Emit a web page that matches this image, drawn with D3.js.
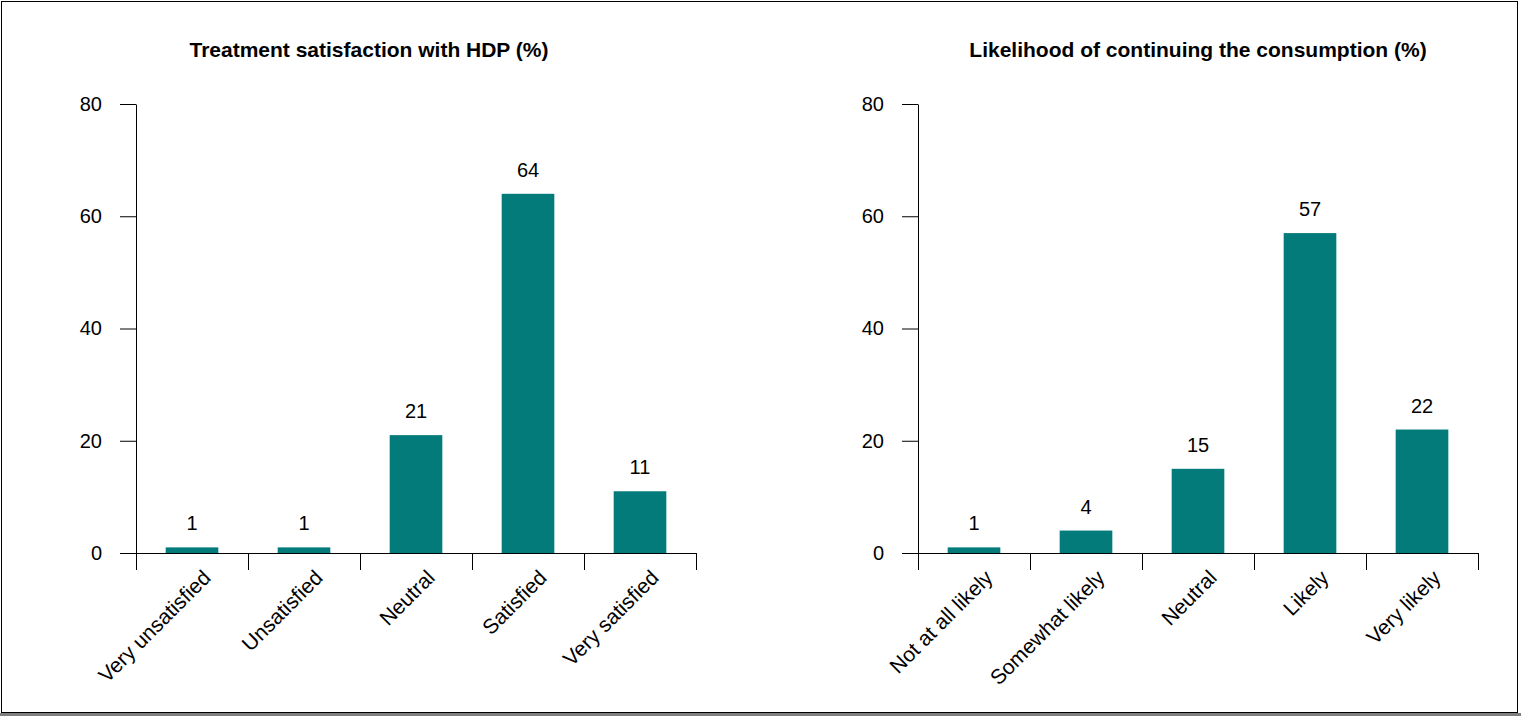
<!DOCTYPE html>
<html>
<head>
<meta charset="utf-8">
<script src="https://cdn.jsdelivr.net/npm/d3@7"></script>
<style>
	body { margin: 0; background: #fff; }
	text { font-family: "Liberation Sans", Arial, sans-serif; }
</style>
</head>
<body>
<div id="content"></div>
<script>
var satisfactionCats = ["Very unsatisfied", "Unsatisfied", "Neutral", "Satisfied", "Very satisfied"];
var satisfactionVals = [1, 1, 21, 64, 11];

var continueCats = ["Not at all likely", "Somewhat likely", "Neutral", "Likely", "Very likely"];
var continueVals = [1, 4, 15, 57, 22];

var yTicks = [0, 20, 40, 60, 80];

var W = 1521, H = 716;
var top0 = 104, bottom0 = 553;

var svg = d3.select("#content").append("svg")
	.attr("width", W).attr("height", H);

svg.append("rect").attr("x", 0).attr("y", 0).attr("width", W).attr("height", H).style("fill", "#fff");

// frame
svg.append("rect").attr("x", 1.5).attr("y", 1.5).attr("width", 1516).attr("height", 711)
	.style("fill", "none").style("stroke", "#000").style("stroke-width", 1);
svg.append("rect").attr("x", 0).attr("y", 713).attr("width", W).attr("height", 3).style("fill", "#7f7f7f");

var panel = function (cats, vals, left, right, title, titleX) {
	var g = svg.append("g");

	var y = d3.scaleLinear().domain([0, 80]).range([bottom0, top0]);
	var x = d3.scaleBand().domain(cats).range([left, right])
		.paddingInner(0.53).paddingOuter(0.265);
	var xi = d3.scaleLinear().domain([0, cats.length]).range([left, right]);

	g.append("text").attr("x", titleX).attr("y", 57)
		.attr("text-anchor", "middle")
		.style("font-size", "21px").style("font-weight", "bold")
		.text(title);

	// bars
	g.selectAll("rect.bar").data(vals).enter().append("rect")
		.attr("class", "bar")
		.attr("x", function (d, i) { return x(cats[i]); })
		.attr("width", x.bandwidth())
		.attr("y", function (d) { return y(d); })
		.attr("height", function (d) { return y(0) - y(d); })
		.style("fill", "#037b7b");

	// value labels
	g.selectAll("text.val").data(vals).enter().append("text")
		.attr("class", "val")
		.attr("x", function (d, i) { return x(cats[i]) + x.bandwidth() / 2; })
		.attr("y", function (d) { return y(d) - 17; })
		.attr("text-anchor", "middle")
		.style("font-size", "20px")
		.text(function (d) { return d; });

	// y axis
	var ya = g.append("g").attr("transform", "translate(" + left + ",0)")
		.call(d3.axisLeft(y).tickValues(yTicks).tickSize(16).tickSizeOuter(0).tickPadding(18));
	ya.selectAll("text").style("font-size", "20px").style("font-family", "'Liberation Sans', Arial, sans-serif").attr("fill", "#000");
	ya.selectAll("line, path").attr("stroke", "#000");

	// x axis (ticks between categories)
	var xa = g.append("g").attr("transform", "translate(0," + bottom0 + ")")
		.call(d3.axisBottom(xi).tickValues(d3.range(cats.length + 1)).tickSize(17).tickSizeOuter(0).tickFormat(""));
	xa.selectAll("line, path").attr("stroke", "#000");

	// category labels
	g.selectAll("text.cat").data(cats).enter().append("text")
		.attr("class", "cat")
		.attr("transform", function (d) {
			return "translate(" + (x(d) + x.bandwidth() / 2 + 20) + "," + 579 + ") rotate(-45)";
		})
		.attr("text-anchor", "end")
		.style("font-size", "21px")
		.text(function (d) { return d; });
};

panel(satisfactionCats, satisfactionVals, 136, 696, "Treatment satisfaction with HDP (%)", 369);
panel(continueCats, continueVals, 918, 1478, "Likelihood of continuing the consumption (%)", 1198);
</script>
</body>
</html>
